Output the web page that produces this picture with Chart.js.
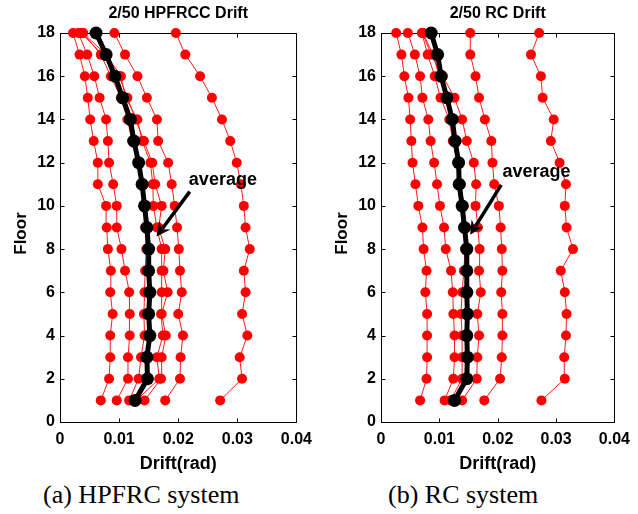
<!DOCTYPE html>
<html>
<head>
<meta charset="utf-8">
<script src="https://cdn.jsdelivr.net/npm/chart.js@4"></script>
<style>
  body { margin: 0; background: #fff; width: 638px; height: 514px; position: relative; overflow: hidden; }
  .box { position: absolute; top: 0; height: 480px; }
  .caption { position: absolute; top: 480px; line-height: 30px; font-family: 'Liberation Serif', 'Times New Roman', serif; font-size: 26px; color: #000; white-space: nowrap; }
</style>
</head>
<body>
<div class="box" style="left:0;width:320px"><canvas id="hpfrc" width="320" height="480"></canvas></div>
<div class="box" style="left:320px;width:318px"><canvas id="rc" width="318" height="480"></canvas></div>
<div class="caption" style="left:43px">(a) HPFRC system</div>
<div class="caption" style="left:388px">(b) RC system</div>
<script>
// floors 1..18
const floors = [1, 2, 3, 4, 5, 6, 7, 8, 9, 10, 11, 12, 13, 14, 15, 16, 17, 18];

// HPFRCC frame, drift per record (rad)
const hpfrcRuns = [
  [0.0069, 0.0083, 0.0085, 0.0085, 0.0089, 0.0085, 0.0086, 0.0081, 0.0079, 0.0078, 0.0064, 0.0064, 0.0057, 0.0051, 0.0047, 0.0042, 0.0033, 0.0022],
  [0.0096, 0.0115, 0.0115, 0.0118, 0.0118, 0.0117, 0.0110, 0.0104, 0.0096, 0.0096, 0.0090, 0.0083, 0.0081, 0.0078, 0.0067, 0.0058, 0.0046, 0.0031],
  [0.0117, 0.0133, 0.0137, 0.0143, 0.0142, 0.0143, 0.0144, 0.0146, 0.0144, 0.0143, 0.0139, 0.0133, 0.0122, 0.0114, 0.0103, 0.0086, 0.0069, 0.0039],
  [0.0129, 0.0168, 0.0164, 0.0174, 0.0171, 0.0172, 0.0172, 0.0172, 0.0164, 0.0158, 0.0157, 0.0153, 0.0139, 0.0131, 0.0111, 0.0103, 0.0078, 0.0039],
  [0.0143, 0.0171, 0.0172, 0.0179, 0.0172, 0.0182, 0.0175, 0.0178, 0.0167, 0.0172, 0.0161, 0.0156, 0.0142, 0.0128, 0.0114, 0.0100, 0.0072, 0.0036],
  [0.0178, 0.0203, 0.0204, 0.0208, 0.0200, 0.0206, 0.0203, 0.0201, 0.0198, 0.0194, 0.0189, 0.0183, 0.0166, 0.0164, 0.0147, 0.0131, 0.0110, 0.0092],
  [0.0271, 0.0308, 0.0304, 0.0317, 0.0308, 0.0314, 0.0311, 0.0321, 0.0314, 0.0311, 0.0306, 0.0299, 0.0288, 0.0274, 0.0257, 0.0237, 0.0212, 0.0196]
];
const hpfrcAverage = [0.0127, 0.0148, 0.0147, 0.0152, 0.0150, 0.0152, 0.0150, 0.0150, 0.0147, 0.0143, 0.0139, 0.0133, 0.0125, 0.0119, 0.0106, 0.0093, 0.0078, 0.0061];

// RC frame
const rcRuns = [
  [0.0067, 0.0078, 0.0079, 0.0079, 0.0079, 0.0076, 0.0078, 0.0073, 0.0071, 0.0064, 0.0059, 0.0054, 0.0052, 0.0050, 0.0047, 0.0040, 0.0035, 0.0026],
  [0.0109, 0.0124, 0.0126, 0.0126, 0.0124, 0.0123, 0.0120, 0.0111, 0.0108, 0.0101, 0.0096, 0.0091, 0.0085, 0.0081, 0.0071, 0.0067, 0.0058, 0.0046],
  [0.0119, 0.0139, 0.0139, 0.0139, 0.0137, 0.0139, 0.0142, 0.0144, 0.0143, 0.0139, 0.0134, 0.0131, 0.0123, 0.0117, 0.0102, 0.0092, 0.0080, 0.0070],
  [0.0128, 0.0147, 0.0149, 0.0148, 0.0149, 0.0148, 0.0148, 0.0149, 0.0146, 0.0142, 0.0137, 0.0134, 0.0129, 0.0125, 0.0114, 0.0100, 0.0089, 0.0072],
  [0.0139, 0.0164, 0.0165, 0.0168, 0.0165, 0.0171, 0.0168, 0.0169, 0.0166, 0.0162, 0.0163, 0.0159, 0.0147, 0.0139, 0.0126, 0.0106, 0.0086, 0.0071],
  [0.0177, 0.0204, 0.0207, 0.0208, 0.0208, 0.0206, 0.0208, 0.0207, 0.0205, 0.0202, 0.0194, 0.0191, 0.0189, 0.0178, 0.0168, 0.0162, 0.0153, 0.0153],
  [0.0275, 0.0315, 0.0314, 0.0317, 0.0318, 0.0315, 0.0308, 0.0329, 0.0318, 0.0315, 0.0317, 0.0306, 0.0291, 0.0296, 0.0277, 0.0274, 0.0257, 0.0271]
];
const rcAverage = [0.0126, 0.0147, 0.0148, 0.0147, 0.0148, 0.0147, 0.0147, 0.0147, 0.0143, 0.0139, 0.0134, 0.0133, 0.0127, 0.0122, 0.0113, 0.0103, 0.0097, 0.0086];

const xTicks = [0, 0.01, 0.02, 0.03, 0.04];
const xTickLabels = ['0', '0.01', '0.02', '0.03', '0.04'];
const yTicks = [0, 2, 4, 6, 8, 10, 12, 14, 16, 18];

// "average" note: [text anchor, arrow start, arrow tip] in data units
const hpfrcNote = [[0.0218, 11.2], [0.02195, 10.66], [0.01633, 8.58]];
const rcNote = [[0.0208, 11.57], [0.0206, 10.97], [0.01528, 8.66]];

const FONT = "'Liberation Sans', Arial, sans-serif";

function toPoints(vals) {
  return vals.map((v, i) => ({ x: v, y: floors[i] }));
}

// box, inner ticks, title, Floor label and the arrow
const framePlugin = {
  id: 'frame',
  beforeDatasetsDraw(chart) {
    const { ctx, chartArea: a, scales: { x, y } } = chart;
    ctx.save();
    ctx.strokeStyle = '#000';
    ctx.lineWidth = 1;
    const L = Math.round(a.left) + 0.5, R = Math.round(a.right) + 0.5;
    const T = Math.round(a.top) + 0.5, B = Math.round(a.bottom) + 0.5;
    ctx.strokeRect(L, T, R - L, B - T);
    ctx.beginPath();
    yTicks.forEach(v => {
      const py = Math.round(y.getPixelForValue(v)) + 0.5;
      ctx.moveTo(L, py); ctx.lineTo(L + 4, py);
      ctx.moveTo(R, py); ctx.lineTo(R - 4, py);
    });
    xTicks.forEach(v => {
      const px = Math.round(x.getPixelForValue(v)) + 0.5;
      ctx.moveTo(px, B); ctx.lineTo(px, B - 4);
      ctx.moveTo(px, T); ctx.lineTo(px, T + 4);
    });
    ctx.stroke();
    ctx.restore();
  },
  afterDraw(chart, args, opts) {
    const { ctx, chartArea: a, scales: { x, y } } = chart;
    ctx.save();
    ctx.fillStyle = '#000';
    // title
    ctx.font = 'bold 16px ' + FONT;
    ctx.textAlign = 'center';
    ctx.textBaseline = 'middle';
    ctx.fillText(opts.title, (a.left + a.right) / 2, 14);
    // Floor
    ctx.save();
    ctx.font = 'bold 17px ' + FONT;
    ctx.translate(a.left - 39, (a.top + a.bottom) / 2 + 6);
    ctx.rotate(-Math.PI / 2);
    ctx.fillText('Floor', 0, 0);
    ctx.restore();
    // note
    const [txt, from, to] = opts.note;
    ctx.font = 'bold 18px ' + FONT;
    ctx.textAlign = 'left';
    ctx.fillText('average', x.getPixelForValue(txt[0]), y.getPixelForValue(txt[1]));
    const x1 = x.getPixelForValue(from[0]), y1 = y.getPixelForValue(from[1]);
    const x2 = x.getPixelForValue(to[0]), y2 = y.getPixelForValue(to[1]);
    const ang = Math.atan2(y2 - y1, x2 - x1);
    const head = 14, half = 7;
    ctx.strokeStyle = '#000';
    ctx.lineWidth = 3.5;
    ctx.beginPath();
    ctx.moveTo(x1, y1);
    ctx.lineTo(x2 - Math.cos(ang) * (head - 4), y2 - Math.sin(ang) * (head - 4));
    ctx.stroke();
    const bx = x2 - Math.cos(ang) * head, by = y2 - Math.sin(ang) * head;
    const nx = -Math.sin(ang), ny = Math.cos(ang);
    ctx.beginPath();
    ctx.moveTo(x2, y2);
    ctx.lineTo(bx + nx * half, by + ny * half);
    ctx.lineTo(x2 - Math.cos(ang) * (head - 5), y2 - Math.sin(ang) * (head - 5));
    ctx.lineTo(bx - nx * half, by - ny * half);
    ctx.closePath();
    ctx.fill();
    ctx.restore();
  }
};

function drawPanel(id, title, runs, avg, note, axisWidth, rightPad) {
  const datasets = [{
    label: 'average',
    data: toPoints(avg),
    showLine: true,
    borderColor: '#000',
    backgroundColor: '#000',
    borderWidth: 5,
    pointRadius: 6.5,
    pointBorderWidth: 0,
    order: 0,
    clip: false
  }];
  runs.forEach((r, i) => {
    datasets.push({
      label: 'record ' + (i + 1),
      data: toPoints(r),
      showLine: true,
      borderColor: '#ff1a1a',
      backgroundColor: '#ff0000',
      borderWidth: 1,
      pointRadius: 5,
      pointBorderWidth: 0,
      order: 1,
      clip: false
    });
  });

  new Chart(document.getElementById(id), {
    type: 'scatter',
    data: { datasets },
    options: {
      responsive: false,
      animation: false,
      layout: { padding: { top: 33, left: 0, right: rightPad, bottom: 0 } },
      plugins: {
        legend: { display: false },
        tooltip: { enabled: false },
        frame: { title, note }
      },
      scales: {
        x: {
          type: 'linear', min: 0, max: 0.04,
          grid: { display: false, drawTicks: false },
          border: { display: false },
          afterBuildTicks: s => { s.ticks = xTicks.map(v => ({ value: v })); },
          afterFit: s => { s.height = 58; },
          ticks: {
            padding: 8, color: '#000',
            font: { family: FONT, size: 16, weight: 'bold' },
            callback: (v, i) => xTickLabels[i]
          },
          title: {
            display: true, text: 'Drift(rad)', color: '#000',
            font: { family: FONT, size: 18, weight: 'bold' },
            padding: { top: 0, bottom: 5 }
          }
        },
        y: {
          type: 'linear', min: 0, max: 18,
          grid: { display: false, drawTicks: false },
          border: { display: false },
          afterBuildTicks: s => { s.ticks = yTicks.map(v => ({ value: v })); },
          afterFit: s => { s.width = axisWidth; },
          ticks: {
            padding: 5, color: '#000',
            font: { family: FONT, size: 16, weight: 'bold' },
            callback: v => String(v)
          }
        }
      }
    },
    plugins: [framePlugin]
  });
}

drawPanel('hpfrc', '2/50 HPFRCC Drift', hpfrcRuns, hpfrcAverage, hpfrcNote, 60, 20);
drawPanel('rc', '2/50 RC Drift', rcRuns, rcAverage, rcNote, 61, 17);
</script>
</body>
</html>
